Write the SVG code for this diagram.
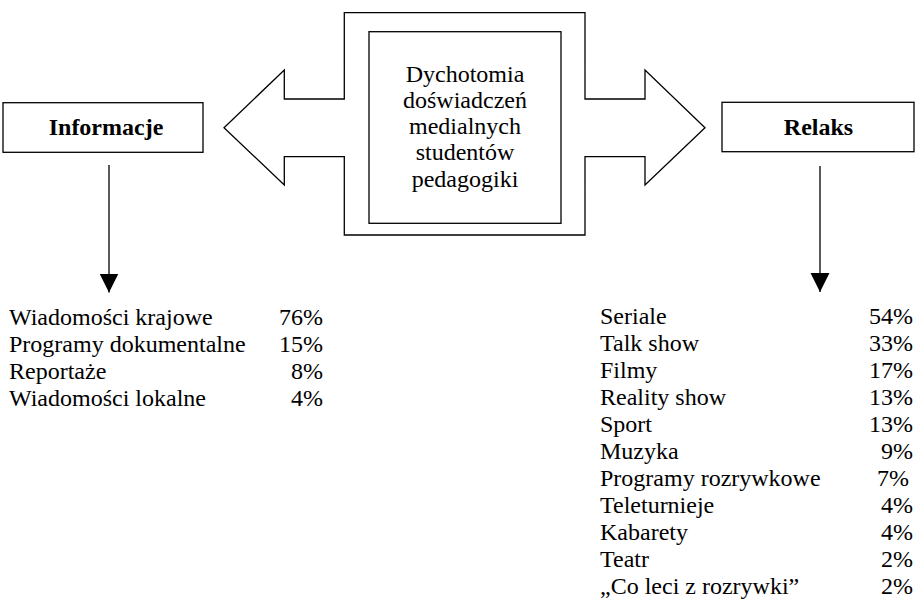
<svg xmlns="http://www.w3.org/2000/svg" width="917" height="602" viewBox="0 0 917 602">
<style>
text{font-family:'Liberation Serif','Times New Roman',Tinos,'DejaVu Serif',serif;font-size:24px;fill:#000}
.b{font-weight:bold}
.c{text-anchor:middle}
.r{text-anchor:end}
.shape{fill:#fff;stroke:#000;stroke-width:1.3}
.conn{stroke:#000;stroke-width:1.3;fill:none}
</style>
<defs>
<marker id="ah" markerWidth="19" markerHeight="20" refX="19" refY="9.5" orient="auto" markerUnits="userSpaceOnUse">
<path d="M0,0 L19,9.5 L0,19 Z" fill="#000"/>
</marker>
</defs>
<rect width="917" height="602" fill="#fff"/>
<g font-family="Liberation Serif, serif">
<g id="center">
<polygon class="shape" points="344.3,12.7 585,12.7 585,99 645,99 645,70 705,127.7 645,185 645,156.7 585,156.7 585,235 344.3,235 344.3,156.7 284.3,156.7 284.3,185 224,127.7 284.3,70 284.3,99 344.3,99"/>
<rect class="shape" x="369" y="31.7" width="192" height="191.6"/>
<text class="c" x="465" y="81.5">Dychotomia</text>
<text class="c" x="465" y="107.8">doświadczeń</text>
<text class="c" x="465" y="134">medialnych</text>
<text class="c" x="465" y="160.3">studentów</text>
<text class="c" x="465" y="186.6">pedagogiki</text>
</g>
<g id="informacje">
<rect class="shape" x="3" y="102.7" width="200" height="49.6"/>
<text class="b c" x="106" y="135">Informacje</text>
</g>
<g id="relaks">
<rect class="shape" x="722" y="102.3" width="192" height="49.4"/>
<text class="b c" x="818.5" y="134.5">Relaks</text>
</g>
<g id="connectors">
<line class="conn" x1="109" y1="165" x2="109" y2="292.5" marker-end="url(#ah)"/>
<line class="conn" x1="820" y1="166" x2="820" y2="292" marker-end="url(#ah)"/>
</g>
<g id="list-informacje">
<text x="9" y="325">Wiadomości krajowe</text><text class="r" x="323" y="325">76%</text>
<text x="9" y="352">Programy dokumentalne</text><text class="r" x="323" y="352">15%</text>
<text x="9" y="379">Reportaże</text><text class="r" x="323" y="379">8%</text>
<text x="9" y="406">Wiadomości lokalne</text><text class="r" x="323" y="406">4%</text>
</g>
<g id="list-relaks">
<text x="600" y="324">Seriale</text><text class="r" x="913" y="324">54%</text>
<text x="600" y="351">Talk show</text><text class="r" x="913" y="351">33%</text>
<text x="600" y="378">Filmy</text><text class="r" x="913" y="378">17%</text>
<text x="600" y="405">Reality show</text><text class="r" x="913" y="405">13%</text>
<text x="600" y="432">Sport</text><text class="r" x="913" y="432">13%</text>
<text x="600" y="459">Muzyka</text><text class="r" x="913" y="459">9%</text>
<text x="600" y="486">Programy rozrywkowe</text><text class="r" x="909" y="486">7%</text>
<text x="600" y="513">Teleturnieje</text><text class="r" x="913" y="513">4%</text>
<text x="600" y="540">Kabarety</text><text class="r" x="913" y="540">4%</text>
<text x="600" y="567">Teatr</text><text class="r" x="913" y="567">2%</text>
<text x="600" y="594">„Co leci z rozrywki”</text><text class="r" x="913" y="594">2%</text>
</g>
</g>
</svg>
